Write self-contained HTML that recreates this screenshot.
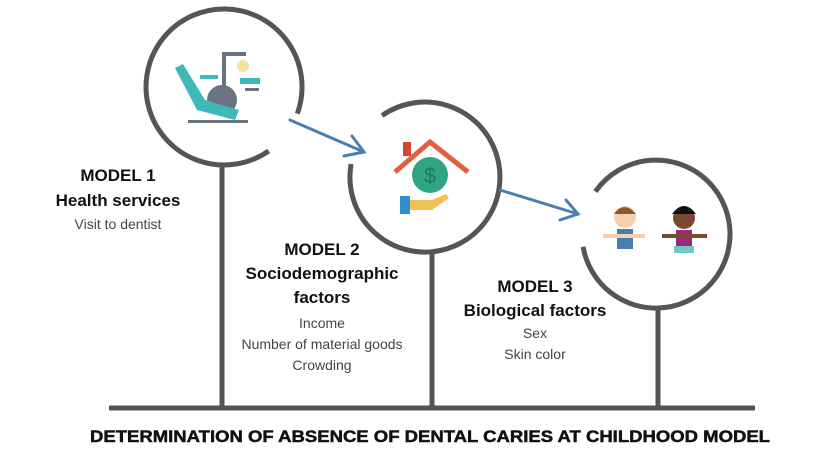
<!DOCTYPE html>
<html><head><meta charset="utf-8"><style>
html,body{margin:0;padding:0;background:#fff;}
svg{display:block;}
.b{font-family:"Liberation Sans",sans-serif;font-weight:bold;fill:#111;font-size:17px;}
.r{font-family:"Liberation Sans",sans-serif;fill:#444;font-size:14px;}
</style></head><body>
<svg width="819" height="452" viewBox="0 0 819 452">
<g fill="none" stroke="#555" stroke-width="5">
<path d="M268.7,150.9 A78,78 0 1 1 297.3,113.7"/>
<path d="M382,115.6 A75,75 0 1 1 351.1,164"/>
<path d="M595.4,191.6 A74,74 0 1 1 583.1,246.8"/>
<line x1="222" y1="164" x2="222" y2="407"/>
<line x1="432" y1="252" x2="432" y2="407"/>
<line x1="658" y1="308" x2="658" y2="407"/>
</g>
<line x1="109" y1="408" x2="755" y2="408" stroke="#555" stroke-width="5"/>
<g stroke="#4a7fb0" stroke-width="3" fill="none" stroke-linecap="round">
<line x1="290" y1="120" x2="364" y2="152"/><polyline points="352,136 364,152 344,156"/>
<line x1="500" y1="190" x2="578" y2="214"/><polyline points="566,200 578,214 560,220"/>
</g>
<g>
<rect x="222" y="52" width="4" height="36" fill="#6b7280"/><rect x="222" y="52" width="24" height="4" fill="#6b7280"/>
<circle cx="243" cy="66" r="6" fill="#f3e3a0"/>
<rect x="240" y="78" width="20" height="6" fill="#3fb8b8"/>
<rect x="245" y="88" width="14" height="3" fill="#6b7280"/>
<circle cx="222" cy="100" r="15" fill="#6b7280"/>
<path d="M175,68 l8,-4 l22,36 l34,10 l-4,10 l-38,-10 z" fill="#3fb8b8"/>
<path d="M200,75 h18 v4 h-18z" fill="#3fb8b8"/>
<rect x="188" y="120" width="60" height="3" fill="#6b7280"/>
</g>
<g>
<polyline points="395,172 430,142 468,172" fill="none" stroke="#e0603f" stroke-width="5"/>
<rect x="403" y="142" width="8" height="14" fill="#d0492c"/>
<circle cx="430" cy="175" r="18" fill="#2fa584"/>
<text x="430" y="183" text-anchor="middle" font-family="Liberation Sans,sans-serif" font-size="22" fill="#1c7a60">$</text>
<rect x="400" y="196" width="10" height="18" fill="#2d8fd0"/>
<path d="M410,200 h22 l14,-6 l3,4 l-17,12 h-22z" fill="#f2c156"/>
</g>
<g>
<circle cx="625" cy="217" r="11" fill="#f5d0b0"/><path d="M614,214 q10,-14 22,0 z" fill="#8b5a2b"/>
<rect x="617" y="229" width="16" height="20" fill="#4d7db0"/>
<line x1="603" y1="236" x2="645" y2="236" stroke="#f5d0b0" stroke-width="4"/>
<circle cx="684" cy="218" r="11" fill="#7a4a32"/><path d="M672,214 q12,-16 24,0" fill="#111"/>
<rect x="676" y="230" width="16" height="16" fill="#a0287a"/>
<rect x="674" y="246" width="20" height="7" fill="#70c8c8"/>
<line x1="662" y1="236" x2="707" y2="236" stroke="#7a4a32" stroke-width="4"/>
</g>
<g text-anchor="middle">
<text class="b" x="118" y="181">MODEL 1</text>
<text class="b" x="118" y="206">Health services</text>
<text class="r" x="118" y="229">Visit to dentist</text>
<text class="b" x="322" y="255">MODEL 2</text>
<text class="b" x="322" y="279">Sociodemographic</text>
<text class="b" x="322" y="303">factors</text>
<text class="r" x="322" y="328">Income</text>
<text class="r" x="322" y="349">Number of material goods</text>
<text class="r" x="322" y="370">Crowding</text>
<text class="b" x="535" y="292">MODEL 3</text>
<text class="b" x="535" y="316">Biological factors</text>
<text class="r" x="535" y="338">Sex</text>
<text class="r" x="535" y="359">Skin color</text>
</g>
<text class="b" x="90" y="442" font-size="18" stroke="#111" stroke-width="0.5" textLength="680" lengthAdjust="spacingAndGlyphs">DETERMINATION OF ABSENCE OF DENTAL CARIES AT CHILDHOOD MODEL</text>
</svg>
</body></html>
